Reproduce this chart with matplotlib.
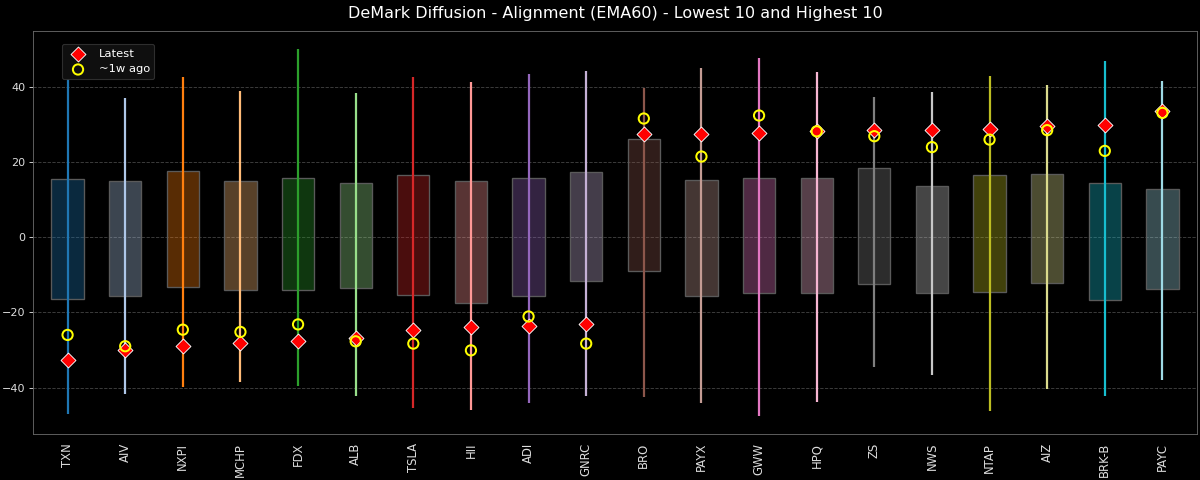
import numpy as np
import matplotlib
matplotlib.use("Agg")
import matplotlib.pyplot as plt

# ---------------------------------------------------------------------------
# Data
# ---------------------------------------------------------------------------
tickers = ["TXN", "AIV", "NXPI", "MCHP", "FDX", "ALB", "TSLA", "HII", "ADI", "GNRC",
           "BRO", "PAYX", "GWW", "HPQ", "ZS", "NWS", "NTAP", "AIZ", "BRK-B", "PAYC"]
range_hi = [42.0, 37.0, 42.5, 38.7, 49.9, 38.4, 42.4, 41.3, 43.2, 44.0,
            39.6, 45.0, 47.6, 43.8, 37.2, 38.5, 42.7, 40.4, 46.8, 41.4]
range_lo = [-47.0, -41.7, -39.9, -38.6, -39.6, -42.1, -45.3, -45.9, -44.0, -42.1,
            -42.6, -44.1, -47.6, -43.9, -34.4, -36.6, -46.3, -40.4, -42.3, -37.9]
box_hi = [15.4, 14.9, 17.5, 14.9, 15.6, 14.4, 16.5, 14.9, 15.7, 17.3,
          26.0, 15.1, 15.6, 15.6, 18.4, 13.5, 16.6, 16.8, 14.4, 12.8]
box_lo = [-16.4, -15.6, -13.2, -14.1, -14.0, -13.6, -15.5, -17.6, -15.7, -11.7,
          -8.9, -15.6, -14.8, -14.8, -12.4, -14.8, -14.5, -12.3, -16.8, -13.9]
latest = [-32.6, -30.0, -28.9, -28.2, -27.5, -26.7, -24.8, -24.0, -23.5, -23.2,
          27.3, 27.5, 27.6, 28.3, 28.5, 28.5, 28.7, 29.4, 29.9, 33.4]
week_ago = [-26.0, -29.0, -24.6, -25.2, -23.2, -27.7, -28.3, -30.1, -21.1, -28.3,
            31.5, 21.4, 32.3, 28.1, 26.8, 23.9, 25.9, 28.4, 22.9, 33.0]

# ---------------------------------------------------------------------------
# Plot
# ---------------------------------------------------------------------------
plt.style.use("dark_background")
fig, ax = plt.subplots(figsize=(15, 6), dpi=80)
fig.subplots_adjust(left=0.0275, right=0.9975, top=0.935, bottom=0.096)

colors = plt.cm.tab20(np.arange(len(tickers)) % 20)
x = np.arange(len(tickers))
box_w = 0.56

for i, c in enumerate(colors):
    fill = (c[0], c[1], c[2], 0.35)
    ax.bar(x[i], box_hi[i] - box_lo[i], width=box_w, bottom=box_lo[i],
           facecolor=fill, edgecolor="#5a5a5a", linewidth=1.2, zorder=2)
    ax.vlines(x[i], range_lo[i], range_hi[i], color=c, linewidth=2.0, zorder=3)

ax.scatter(x, latest, marker="D", s=90, color="red", edgecolor="white",
           linewidth=0.8, zorder=5, label="Latest")
ax.scatter(x, week_ago, marker="o", s=85, facecolor="none", edgecolor="yellow",
           linewidth=1.8, zorder=6, label="~1w ago")

ax.set_xticks(x)
ax.set_xticklabels(tickers, rotation=90, color="#dddddd", fontsize=10.5)
ax.tick_params(axis="x", length=0, pad=8)
ax.tick_params(axis="y", colors="#dddddd", labelsize=10)
ax.set_xlim(-0.6, len(tickers) - 0.4)
ax.set_ylim(-52.3, 54.7)
ax.set_yticks([-40, -20, 0, 20, 40])
ax.yaxis.grid(True, linestyle="--", color="gray", alpha=0.5, linewidth=0.8)
ax.set_axisbelow(True)
for sp in ax.spines.values():
    sp.set_color("#666666")

ax.set_title("DeMark Diffusion - Alignment (EMA60) - Lowest 10 and Highest 10",
             fontsize=14.4, color="white", pad=12)
leg = ax.legend(loc="upper left", fontsize=10.3, bbox_to_anchor=(0.02, 0.982),
                facecolor="#111111", edgecolor="#333333", framealpha=0.9)

plt.savefig("out.png", dpi=80, facecolor=fig.get_facecolor())
plt.close()
